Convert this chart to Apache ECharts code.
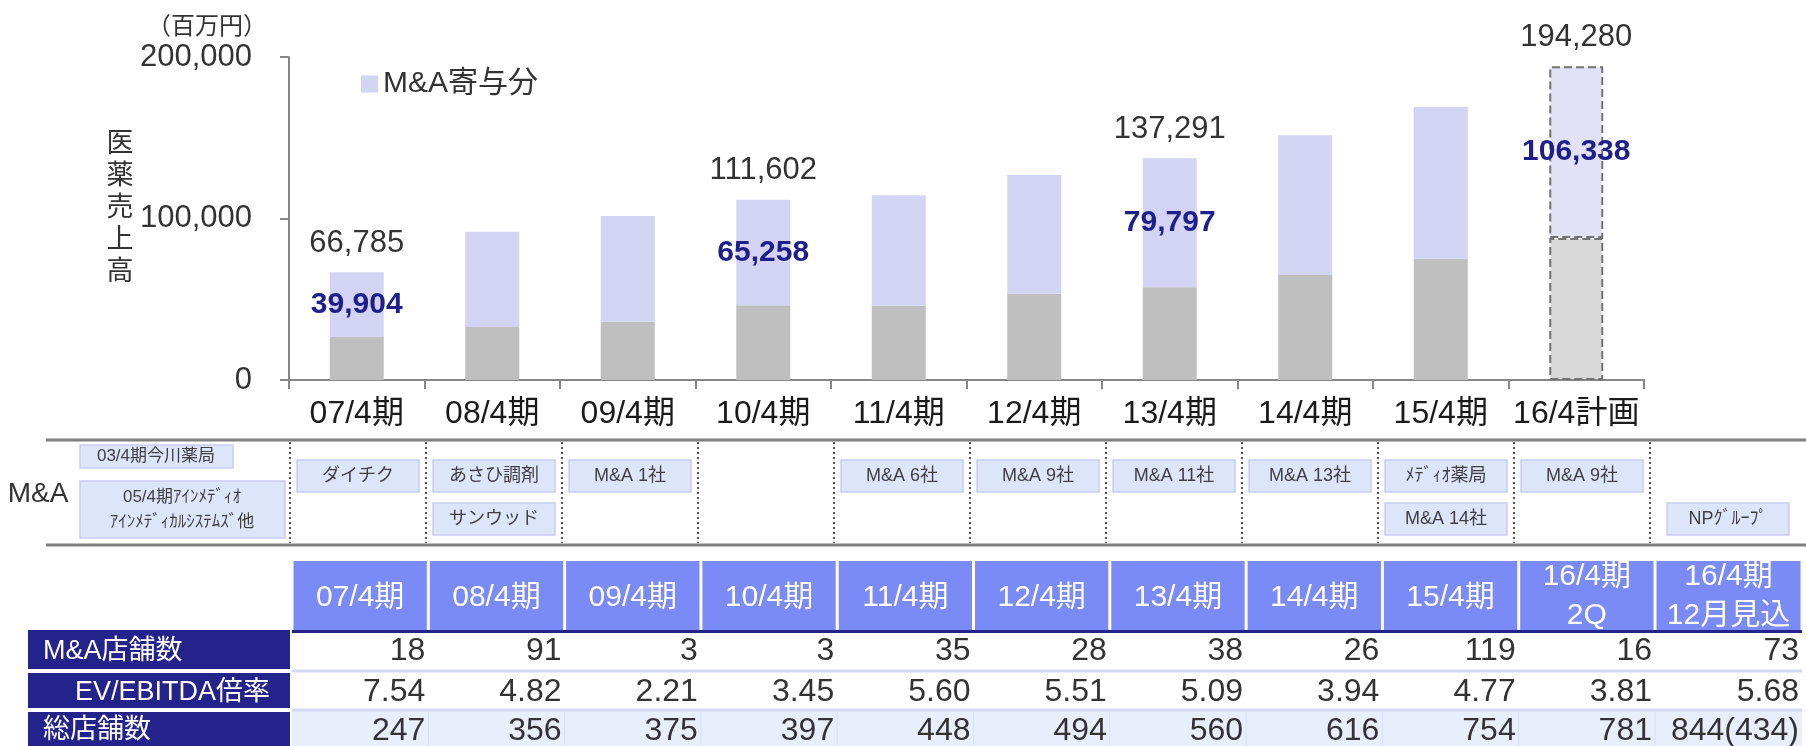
<!DOCTYPE html>
<html>
<head>
<meta charset="utf-8">
<script src="https://cdn.jsdelivr.net/npm/echarts@6/dist/echarts.min.js"></script>
<style>
  html, body { margin: 0; padding: 0; background: #fff; }
  #chart { width: 1806px; height: 746px; }
</style>
</head>
<body>
<div id="chart"></div>
<script>
// 医薬売上高（百万円）
const categories = ['07/4期', '08/4期', '09/4期', '10/4期', '11/4期', '12/4期', '13/4期', '14/4期', '15/4期', '16/4計画'];
const baseSales = [26881, 32800, 36100, 46344, 46000, 53440, 57494, 65000, 75100, 87942];
const maSales = [39904, 59030, 65450, 65258, 68360, 73490, 79797, 86500, 93940, 106338];
const totalLabels = [66785, null, null, 111602, null, null, 137291, null, null, 194280];
const maLabels = [39904, null, null, 65258, null, null, 79797, null, null, 106338];

// M&A の内訳
const priorDeals = ['03/4期今川薬局', '05/4期ｱｲﾝﾒﾃﾞｨｵ\nｱｲﾝﾒﾃﾞｨｶﾙｼｽﾃﾑｽﾞ他'];
const dealsRow1 = ['ダイチク', 'あさひ調剤', 'M&A 1社', '', 'M&A 6社', 'M&A 9社', 'M&A 11社', 'M&A 13社', 'ﾒﾃﾞｨｵ薬局', 'M&A 9社', ''];
const dealsRow2 = ['', 'サンウッド', '', '', '', '', '', '', 'M&A 14社', '', 'NPｸﾞﾙｰﾌﾟ'];

// 表
const tableHeaders = ['07/4期', '08/4期', '09/4期', '10/4期', '11/4期', '12/4期', '13/4期', '14/4期', '15/4期', '16/4期\n2Q', '16/4期\n12月見込'];
const rowNames = ['M&A店舗数', 'EV/EBITDA倍率', '総店舗数'];
const storesAcquired = [18, 91, 3, 3, 35, 28, 38, 26, 119, 16, 73];
const evEbitda = [7.54, 4.82, 2.21, 3.45, 5.60, 5.51, 5.09, 3.94, 4.77, 3.81, 5.68];
const totalStores = ['247', '356', '375', '397', '448', '494', '560', '616', '754', '781', '844(434)'];

const FONT = "'Liberation Sans', 'Noto Sans CJK JP', sans-serif";
const font = (size, weight) => (weight || 'normal') + ' ' + size + 'px ' + FONT;

const chart = echarts.init(document.getElementById('chart'));

// ---- graphic parts (M&A row + table) ----
const g = [];
function text(x, y, str, size, color, align, extra) {
  g.push({
    type: 'text', x: x, y: y, silent: true,
    style: Object.assign({
      text: str, font: font(size), fill: color,
      align: align || 'center', verticalAlign: 'middle',
      textAlign: align || 'center', textVerticalAlign: 'middle'
    }, extra || {})
  });
}
function rect(x, y, w, h, fill, stroke, lw) {
  g.push({
    type: 'rect', silent: true,
    shape: { x: x, y: y, width: w, height: h },
    style: { fill: fill, stroke: stroke || null, lineWidth: lw || 0 }
  });
}
function line(x1, y1, x2, y2, color, lw, dash) {
  g.push({
    type: 'line', silent: true,
    shape: { x1: x1, y1: y1, x2: x2, y2: y2 },
    style: { stroke: color, lineWidth: lw, lineDash: dash || null }
  });
}

// axis titles
text(207, 27, '（百万円）', 24, '#333');
text(120, 209, '医\n薬\n売\n上\n高', 27, '#333', 'center', { lineHeight: 32 });

// M&A section
const MA_TOP = 440, MA_BOTTOM = 545, MA_X0 = 290, MA_CW = 136, RIGHT = 1806;
const BOX_W = 122, BOX_H = 32, BOX_Y = [460, 503];
const boxFill = '#dde5fb', boxStroke = '#c9cdf2';
line(46, MA_TOP, RIGHT, MA_TOP, '#7f7f7f', 3);
line(46, MA_BOTTOM, RIGHT, MA_BOTTOM, '#7f7f7f', 3);
text(38, 494, 'M&A', 28, '#333');
rect(80, 445, 153, 23, boxFill, boxStroke, 1.5);
text(156, 456.5, priorDeals[0], 17, '#404040');
rect(80, 481, 205, 57, boxFill, boxStroke, 1.5);
text(182, 509.5, priorDeals[1], 17, '#404040', 'center', { lineHeight: 25 });
for (let i = 0; i < dealsRow1.length; i++) {
  const left = MA_X0 + MA_CW * i;
  const right = i === dealsRow1.length - 1 ? RIGHT : left + MA_CW;
  line(left, MA_TOP + 2, left, MA_BOTTOM - 2, '#555', 2, [2, 3]);
  const cx = (left + right) / 2;
  [dealsRow1[i], dealsRow2[i]].forEach(function (name, r) {
    if (!name) return;
    rect(cx - BOX_W / 2, BOX_Y[r], BOX_W, BOX_H, boxFill, boxStroke, 1.5);
    text(cx, BOX_Y[r] + BOX_H / 2, name, 18, '#404040');
  });
}

// table
const T_X0 = 292, T_CW = 136.3, T_RIGHT = 1802;
const HEAD_TOP = 561, HEAD_BOTTOM = 631;
const rowTops = [633, 672, 711];
const colLeft = i => T_X0 + T_CW * i;
const colRight = i => (i === tableHeaders.length - 1 ? T_RIGHT : T_X0 + T_CW * (i + 1));

rect(T_X0, rowTops[2], T_RIGHT - T_X0, 746 - rowTops[2], '#e8eefc');
for (let i = 0; i < tableHeaders.length; i++) {
  const l = colLeft(i), r = colRight(i);
  rect(l + 1.5, HEAD_TOP, r - l - 3, HEAD_BOTTOM - HEAD_TOP, '#7a8af7');
  const twoLines = tableHeaders[i].indexOf('\n') >= 0;
  text((l + r) / 2, twoLines ? 596 : 598, tableHeaders[i], 30, '#fff', 'center', { lineHeight: 39 });
  if (i > 0) line(l, rowTops[2], l, 746, '#d9dff3', 1);
}
line(T_X0, HEAD_BOTTOM + 0.5, T_RIGHT, HEAD_BOTTOM + 0.5, '#23238b', 3);
line(T_X0, 671, T_RIGHT, 671, '#d4d7f3', 3);
line(T_X0, 710, T_RIGHT, 710, '#d4d7f3', 3);

const rows = [
  storesAcquired.map(String),
  evEbitda.map(v => v.toFixed(2)),
  totalStores
];
const labelTops = [630, 673, 712], labelBottoms = [669, 708, 746];
rows.forEach(function (vals, r) {
  rect(28, labelTops[r], 262, labelBottoms[r] - labelTops[r], '#23238b');
  const cy = (labelTops[r] + labelBottoms[r]) / 2 + 2;
  text(r === 1 ? 75 : 43, cy, rowNames[r], 27, '#fff', 'left');
  vals.forEach(function (v, i) {
    text(colRight(i) - 3, cy, v, 32, '#333', 'right');
  });
});

// ---- bars ----
const planIndex = categories.length - 1;
const dashed = { borderType: 'dashed', borderColor: '#737373', borderWidth: 2 };

const option = {
  animation: false,
  textStyle: { fontFamily: FONT },
  grid: { left: 289, right: 162, top: 57, bottom: 366, containLabel: false },
  legend: {
    data: ['M&A寄与分'],
    left: 356, top: 64,
    icon: 'rect', itemWidth: 17, itemHeight: 17, itemGap: 8,
    textStyle: { fontSize: 30, color: '#333', fontFamily: FONT }
  },
  xAxis: {
    type: 'category',
    data: categories,
    axisLine: { lineStyle: { color: '#868686', width: 2 } },
    axisTick: { show: true, length: 9, lineStyle: { color: '#868686', width: 2 } },
    axisLabel: { interval: 0, fontSize: 32, color: '#1a1a1a', margin: 18 }
  },
  yAxis: {
    type: 'value',
    min: 0, max: 200000, interval: 100000,
    axisLine: { show: true, lineStyle: { color: '#868686', width: 2 } },
    axisTick: { show: true, length: 9, lineStyle: { color: '#868686', width: 2 } },
    splitLine: { show: false },
    axisLabel: {
      fontSize: 31, color: '#333', margin: 37,
      formatter: v => v.toLocaleString('en-US')
    }
  },
  series: [
    {
      name: '既存',
      type: 'bar', stack: 'sales', barWidth: 54,
      itemStyle: { color: '#bfbfbf' },
      data: baseSales.map((v, i) => i === planIndex
        ? { value: v, itemStyle: Object.assign({ color: '#d9d9d9' }, dashed) }
        : v)
    },
    {
      name: 'M&A寄与分',
      type: 'bar', stack: 'sales', barWidth: 54,
      itemStyle: { color: '#d3d3f3' },
      label: {
        show: true, position: 'inside',
        fontSize: 30, fontWeight: 'bold', color: '#1f1f8c',
        formatter: p => (maLabels[p.dataIndex] == null ? '' : maLabels[p.dataIndex].toLocaleString('en-US'))
      },
      data: maSales.map((v, i) => i === planIndex
        ? { value: v, itemStyle: Object.assign({ color: '#e1e1f7' }, dashed) }
        : v)
    },
    {
      name: '合計',
      type: 'scatter',
      symbolSize: 1,
      itemStyle: { color: 'rgba(0,0,0,0)', opacity: 1 },
      label: {
        show: true, position: 'top', distance: 13,
        fontSize: 31, color: '#333', opacity: 1,
        formatter: p => p.value.toLocaleString('en-US')
      },
      data: totalLabels
    }
  ],
  graphic: g
};

chart.setOption(option);
</script>
</body>
</html>
